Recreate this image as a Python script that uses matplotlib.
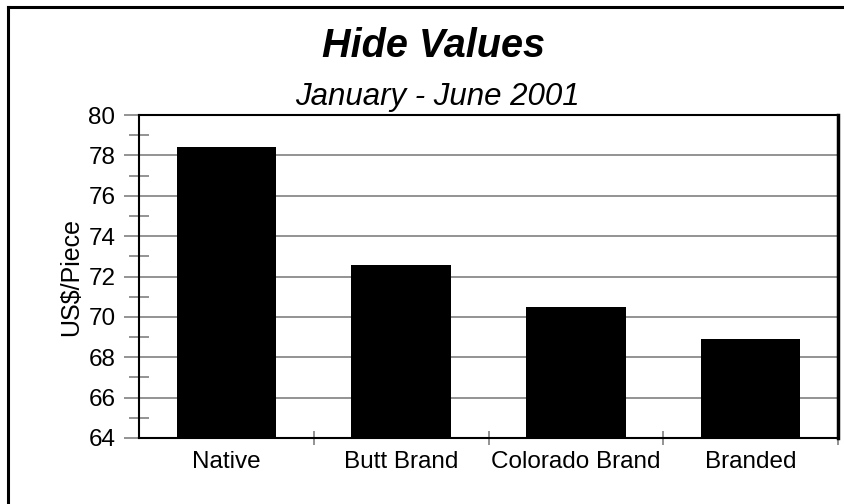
import matplotlib
matplotlib.use("Agg")
import matplotlib.pyplot as plt
from matplotlib.ticker import MultipleLocator
from matplotlib.lines import Line2D

# Datos del gráfico
categorias = ["Native", "Butt Brand", "Colorado Brand", "Branded"]
valores = [78.42, 72.57, 70.5, 68.88]
y_ticks = [64, 66, 68, 70, 72, 74, 76, 78, 80]

plt.rcParams['font.family'] = ['Liberation Sans', 'DejaVu Sans']

fig = plt.figure(figsize=(8.44, 5.04), dpi=100)
ax = fig.add_axes([139 / 844, 1 - 438 / 504, 699 / 844, 323 / 504])

x = list(range(len(categorias)))
ax.bar(x, [v - 64 for v in valores], bottom=64, width=0.57, color='black', zorder=3)

ax.set_xlim(-0.5, len(categorias) - 0.5)
ax.set_ylim(64, 80)
ax.set_yticks(y_ticks)
ax.yaxis.set_minor_locator(MultipleLocator(1))
ax.grid(axis='y', color='#808080', linewidth=1.2, zorder=1)

ax.set_xticks(x)
ax.set_xticklabels(categorias, fontsize=17.5)
ax.tick_params(axis='x', which='major', length=0, pad=9)
# marcas entre categorías
ax.set_xticks([i + 0.5 for i in range(len(categorias))], minor=True)
ax.tick_params(axis='x', which='minor', length=10, direction='inout', color='#808080', width=1.2)

ax.tick_params(axis='y', which='major', labelsize=17.5, length=11, color='#808080', width=1.2, pad=6)
ax.tick_params(axis='y', which='minor', length=14, direction='inout', color='#808080', width=1.2)

for lado in ['left', 'bottom', 'top']:
    ax.spines[lado].set_linewidth(1.5)
ax.spines['right'].set_linewidth(2.5)

ax.set_ylabel("US$/Piece", fontsize=18, labelpad=4)

fig.text(433 / 844, 1 - 57 / 504, "Hide Values", ha='center', va='baseline',
         fontsize=28.5, fontweight='bold', fontstyle='italic')
fig.text(437 / 844, 1 - 105 / 504, "January - June 2001", ha='center', va='baseline',
         fontsize=22.5, fontstyle='italic')

# borde exterior (solo izquierda y arriba se ven)
fig.add_artist(Line2D([8 / 844, 8 / 844], [0, 1 - 7 / 504], transform=fig.transFigure,
                      color='black', linewidth=2.2))
fig.add_artist(Line2D([8 / 844, 1], [1 - 7 / 504, 1 - 7 / 504], transform=fig.transFigure,
                      color='black', linewidth=2.2))

fig.savefig("out.png", dpi=100)
